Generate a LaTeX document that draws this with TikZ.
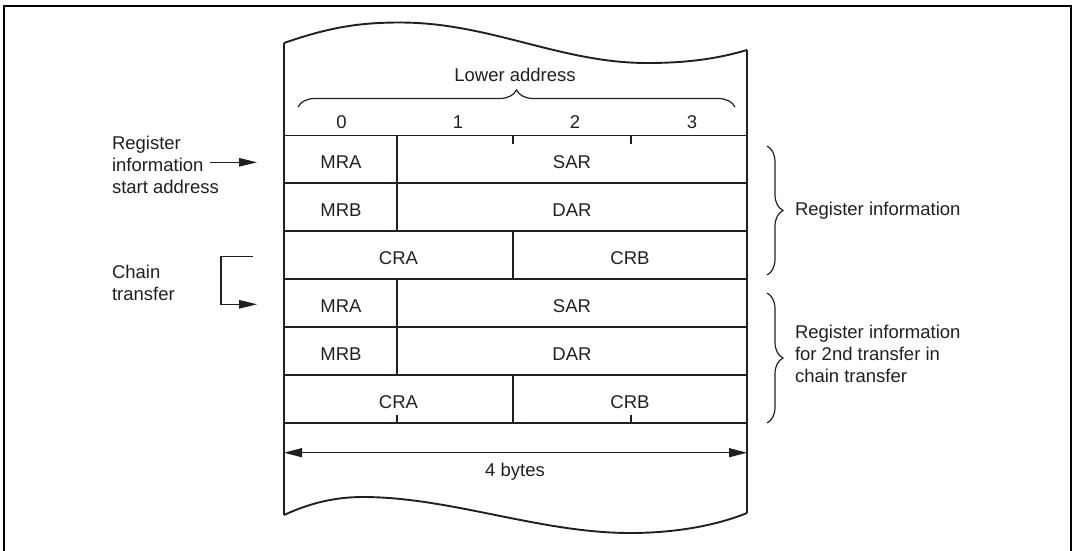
\documentclass[tikz,border=0pt]{standalone}
\usepackage{fontspec}
\setmainfont{Liberation Sans}
\usetikzlibrary{arrows.meta,decorations.pathreplacing}
\definecolor{ink}{HTML}{231F20}
\begin{document}
\begin{tikzpicture}[x=1pt,y=-1pt,
  every node/.style={inner sep=0pt,outer sep=0pt,text=ink,font=\fontsize{18.5}{22}\selectfont},
  thick line/.style={draw=ink,line width=1.9pt},
  thin line/.style={draw=ink,line width=1.2pt},
  tip/.style={-{Triangle[length=18pt,width=8.5pt]}},
  bracestyle/.style={thin line,decorate,decoration={brace,amplitude=16pt,aspect=0.5}},
  lbl/.style={anchor=base},
  lblw/.style={anchor=base west}
]
\useasboundingbox (0,0) rectangle (1074,550);
% outer frame
\draw[draw=black,line width=1.8pt] (4,552) -- (4,6) -- (1071,6) -- (1071,552);

% table geometry
\def\xL{284}\def\xA{397}\def\xB{513}\def\xC{631}\def\xR{747}
\coordinate (tl) at (\xL,43);
\coordinate (tr) at (\xR,50);
\coordinate (bl) at (\xL,515);
\coordinate (br) at (\xR,513);
% wavy top and bottom
\draw[thick line] (tl) .. controls (330,27) and (360,22.5) .. (400,22.5)
   .. controls (490,22.5) and (560,63) .. (647,63)
   .. controls (690,63) and (720,58) .. (tr);
\draw[thick line] (bl) .. controls (310,503) and (335,497) .. (363,497)
   .. controls (450,497) and (540,533) .. (630,533)
   .. controls (680,533) and (720,524) .. (br);
\draw[thick line] (tl) -- (bl);
\draw[thick line] (tr) -- (br);

% rows
\foreach \y in {135.5,183.4,231.3,279.2,327.1,375.0,422.9}
  \draw[thick line] (\xL,\y) -- (\xR,\y);
% vertical dividers
\draw[thick line] (\xA,135.5) -- (\xA,231.3);
\draw[thick line] (\xB,231.3) -- (\xB,279.2);
\draw[thick line] (\xA,279.2) -- (\xA,375.0);
\draw[thick line] (\xB,375.0) -- (\xB,422.9);
% ticks
\draw[thick line] (\xB,135.5) -- (\xB,143.5);
\draw[thick line] (\xC,135.5) -- (\xC,143.5);
\draw[thick line] (\xA,422.9) -- (\xA,414.9);
\draw[thick line] (\xC,422.9) -- (\xC,414.9);

% header
\node[lbl] (lower) at (515,81.7) {Lower address};
\draw[bracestyle,decoration={amplitude=17pt}] (298,107) -- (735,107);
\node[lbl] (b0) at (341.5,128.3) {0};
\node[lbl] (b1) at (458,128.3) {1};
\node[lbl] (b2) at (575,128.3) {2};
\node[lbl] (b3) at (692,128.3) {3};

% cell labels
\node[lbl] (mra1) at (341,168.5) {MRA};
\node[lbl] (sar1) at (572,168.5) {SAR};
\node[lbl] (mrb1) at (341,216.4) {MRB};
\node[lbl] (dar1) at (572,216.4) {DAR};
\node[lbl] (cra1) at (398.5,264.3) {CRA};
\node[lbl] (crb1) at (630,264.3) {CRB};
\node[lbl] (mra2) at (341,312.2) {MRA};
\node[lbl] (sar2) at (572,312.2) {SAR};
\node[lbl] (mrb2) at (341,360.1) {MRB};
\node[lbl] (dar2) at (572,360.1) {DAR};
\node[lbl] (cra2) at (398.5,408.0) {CRA};
\node[lbl] (crb2) at (630,408.0) {CRB};

% 4 bytes
\coordinate (wl) at (\xL,452.7);
\coordinate (wr) at (\xR,452.7);
\draw[thin line,{Triangle[length=18pt,width=9pt]}-{Triangle[length=18pt,width=9pt]}] (wl) -- (wr);
\node[lbl] (bytes) at (515,476.7) {4 bytes};

% left labels
\node[lblw] (rs1) at (112,149.3) {Register};
\node[lblw] (rs2) at (112,171.3) {information};
\node[lblw] (rs3) at (112,193.3) {start address};
\coordinate (startarrow) at (257,162.3);
\draw[thin line,tip] (210,162.3) -- (startarrow);

\node[lblw] (ch1) at (112,278.3) {Chain};
\node[lblw] (ch2) at (112,300.3) {transfer};
\coordinate (chainfrom) at (253,256.7);
\coordinate (chainto) at (257,304.3);
\draw[thin line,tip] (chainfrom) -- (221,256.7) -- (221,304.3) -- (chainto);

% right braces and labels
\draw[bracestyle] (767,146) -- (767,275);
\draw[bracestyle] (767,293) -- (767,423);
\node[lblw] (ri1) at (795,215.7) {Register information};
\node[lblw] (ri2a) at (795,338.3) {Register information};
\node[lblw] (ri2b) at (795,360.3) {for 2nd transfer in};
\node[lblw] (ri2c) at (795,382.3) {chain transfer};
\end{tikzpicture}
\end{document}
